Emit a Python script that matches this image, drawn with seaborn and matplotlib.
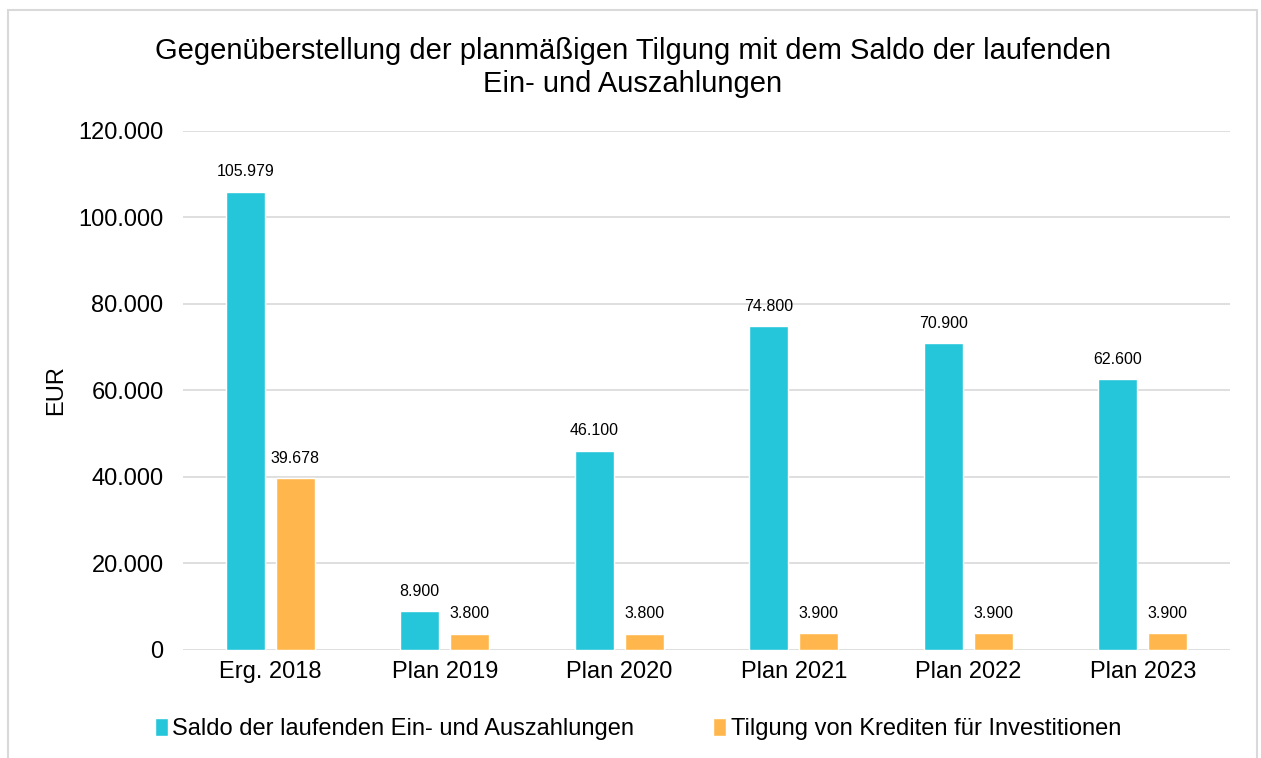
import matplotlib.pyplot as plt
import seaborn as sns
import pandas as pd
from matplotlib.patches import Patch, Rectangle
from matplotlib.ticker import FuncFormatter

jahre = ["Erg. 2018", "Plan 2019", "Plan 2020", "Plan 2021", "Plan 2022", "Plan 2023"]
saldo = [105979, 8900, 46100, 74800, 70900, 62600]
tilgung = [39678, 3800, 3800, 3900, 3900, 3900]
serien = ["Saldo der laufenden Ein- und Auszahlungen", "Tilgung von Krediten für Investitionen"]
farben = ["#26C6DA", "#FFB74D"]

df = pd.DataFrame({
    "jahr": jahre * 2,
    "wert": saldo + tilgung,
    "serie": [serien[0]] * len(jahre) + [serien[1]] * len(jahre),
})

sns.set_style("white")
plt.rcParams["font.family"] = ["Liberation Sans", "DejaVu Sans"]
plt.rcParams["text.color"] = "black"
plt.rcParams["axes.labelcolor"] = "black"
plt.rcParams["xtick.color"] = "black"
plt.rcParams["ytick.color"] = "black"

fig = plt.figure(figsize=(12.61, 7.58), dpi=100)
ax = fig.add_axes([0.1451, 0.1425, 0.8303, 0.6847])

sns.barplot(data=df, x="jahr", y="wert", hue="serie", palette=farben,
            width=0.573, gap=0.22, ax=ax, legend=False, saturation=1)

def punkt_format(v, pos=None):
    return f"{v:,.0f}".replace(",", ".")

for cont in ax.containers:
    ax.bar_label(cont, labels=[punkt_format(b.get_height()) for b in cont],
                 padding=9, fontsize=11.5)

ax.set_ylim(0, 120000)
ax.set_yticks(range(0, 120001, 20000))
ax.yaxis.set_major_formatter(FuncFormatter(punkt_format))
ax.grid(axis="y", color="#d9d9d9", linewidth=1.2)
ax.set_axisbelow(True)
sns.despine(ax=ax, left=True, bottom=True)
ax.tick_params(axis="both", length=0, labelsize=17, pad=8)
ax.tick_params(axis="y", pad=14)
ax.set_xlabel("")
ax.set_ylabel("EUR", fontsize=17, labelpad=8)
ax.set_xlim(-0.5, 5.5)

fig.suptitle("Gegenüberstellung der planmäßigen Tilgung mit dem Saldo der laufenden\nEin- und Auszahlungen",
             fontsize=21, y=0.951, x=0.502, linespacing=1.22)

handles = [Patch(facecolor=c) for c in farben]
fig.legend(handles, serien, loc="center", bbox_to_anchor=(0.506, 0.038), ncol=2,
           frameon=False, fontsize=17, handlelength=0.55, handleheight=0.75,
           handletextpad=0.2, columnspacing=3.35)

fig.patches.append(Rectangle((8 / 1261, -0.1), 1249 / 1261, 1.1 - 10 / 758,
                             transform=fig.transFigure, fill=False,
                             edgecolor="#d9d9d9", linewidth=1.5))

fig.savefig("out.png", dpi=100)
